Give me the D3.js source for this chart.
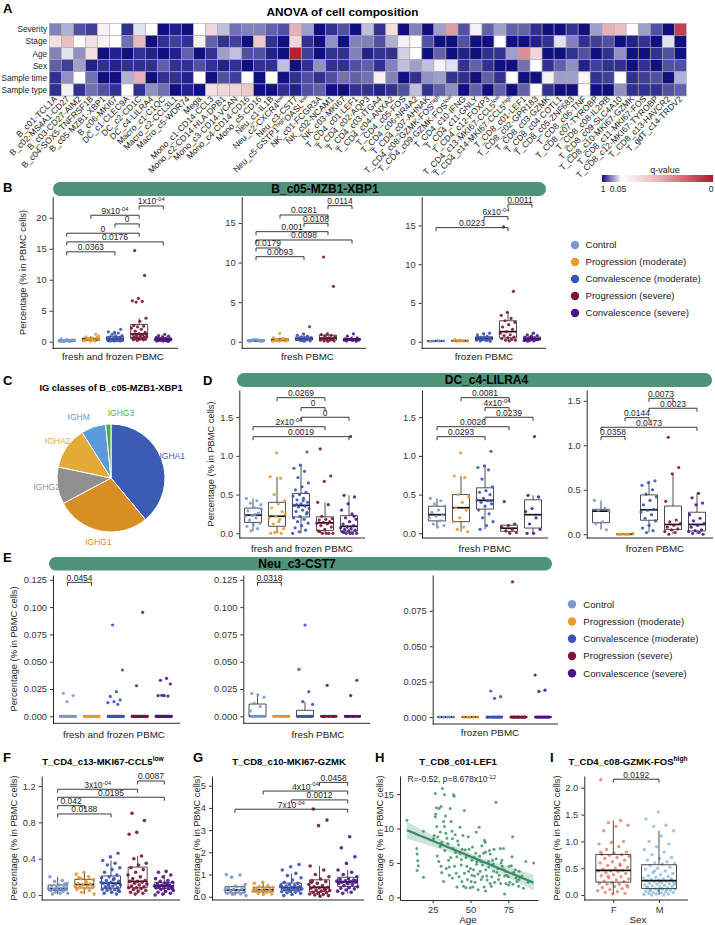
<!DOCTYPE html>
<html>
<head>
<meta charset="utf-8">
<script src="https://cdn.jsdelivr.net/npm/d3@7/dist/d3.min.js"></script>
<style>
  body { margin: 0; background: #fff; }
  svg text { font-family: "Liberation Sans", Arial, Helvetica, sans-serif; }
</style>
</head>
<body>
<script>
// ---------- data ----------
const groups = ["Control", "Progression (moderate)", "Convalescence (moderate)", "Progression (severe)", "Convalescence (severe)"];
const groupColors = ["#7b98d3", "#e99a2c", "#3b52b6", "#7a1534", "#4a1488"];

// A: ANOVA q-values
const factors = ["Severity", "Stage", "Age", "Sex", "Sample time", "Sample type"];
const cellTypes = ["B_c01-TCL1A","B_c02-MS4A1-CD27","B_c03-CD27-AIM2","B_c04-SOX5-TNFRSF1B","B_c05-MZB1-XBP1","B_c06-MKI67",
  "DC_c1-CLEC9A","DC_c2-CD1C","DC_c4-LILRA4","Macro_c1-C1QC","Macro_c2-CCL3L1","Macro_c5-WDR74","Mega",
  "Mono_c1-CD14-CCL3","Mono_c2-CD14-HLA-DPB1","Mono_c3-CD14-VCAN","Mono_c4-CD14-CD16","Mono_c5-CD16",
  "Neu_c1-IL1B","Neu_c2-CXCR4^{low}","Neu_c3-CST7","Neu_c5-GSTP1^{high}OASL^{low}",
  "NK_c01-FCGR3A","NK_c02-NCAM1","NK_c03-MKI67",
  "T_CD4_c01-LEF1","T_CD4_c02-AQP3","T_CD4_c03-ITGA4","T_CD4_c04-ANXA2","T_CD4_c05-FOS","T_CD4_c06-NR4A2","T_CD4_c07-AHNAK",
  "T_CD4_c08-GZMK-FOS^{high}","T_CD4_c09-GZMK-FOS^{low}","T_CD4_c10-IFNG","T_CD4_c11-GNLY","T_CD4_c12-FOXP3",
  "T_CD4_c13-MKI67-CCL5^{low}","T_CD4_c14-MKI67-CCL5^{high}",
  "T_CD8_c01-LEF1","T_CD8_c02-GPR183","T_CD8_c03-GZMK","T_CD8_c04-COTL1","T_CD8_c05-ZNF683","T_CD8_c06-TNF","T_CD8_c07-TYROBP",
  "T_CD8_c08-IL2RB","T_CD8_c09-SLC4A10","T_CD8_c10-MKI67-GZMK","T_CD8_c11-MKI67-FOS","T_CD8_c12-MKI67-TYROBP","T_CD8_c13-HAVCR2","T_gdT_c14-TRDV2"];
const qSeverity = [0.55,0.36,0.74,0.81,0.047,0.05,0.87,0.17,0.05,1,0.93,1,0.05,0.041,0.3,0.62,0.55,0.55,0.68,0.74,0.033,0.43,1,0.87,0.74,1,
  0.3,0.87,0.043,1,0.55,1,0.43,0.029,0.74,0.1,0.68,0.43,0.68,0.68,0.87,1,1,0.87,1,0.43,0.033,0.036,0.05,0.43,0.74,1,0.009];
const qStage = [0.043,0.036,0.05,0.043,0.047,0.05,0.62,0.035,1,0.87,0.81,0.87,0.047,0.68,0.87,0.81,1,0.038,0.87,1,0.041,0.87,1,0.49,1,0.55,
  0.55,0.74,0.36,0.1,0.05,0.74,1,1,0.74,1,1,0.05,1,1,0.93,0.87,0.17,0.55,0.87,0.81,0.74,1,0.93,0.87,1,0.17,1];
const qAge = [0.55,0.17,0.49,0.043,1,0.93,1,0.87,0.93,1,0.93,0.68,1,0.87,0.43,0.3,0.74,0.74,0.93,1,0.002,0.81,1,0.87,0.87,0.55,
  0.93,0.87,0.87,0.23,0.05,1,0.68,1,0.93,1,0.87,0.87,0.43,0.026,0.041,1,1,0.87,0.74,1,0.87,0.49,1,1,0.87,0.74,1];
const qSex = [0.68,0.81,0.43,0.93,0.87,0.93,0.87,0.87,0.87,0.68,0.87,0.87,0.74,0.87,0.93,0.87,1,0.87,0.87,0.3,1,0.87,0.49,0.87,0.87,0.74,
  0.68,0.87,0.55,0.3,0.43,0.3,0.1,0.17,0.87,0.68,0.87,1,1,0.62,0.05,0.87,0.68,0.49,0.93,0.81,0.87,0.87,1,0.87,1,0.74,0.74];
const qSampleTime = [0.87,0.49,0.05,0.62,1,1,0.36,0.033,1,0.87,0.87,0.93,0.05,1,0.74,0.81,0.05,1,0.05,1,0.87,0.74,0.87,0.74,0.62,0.68,
  0.62,0.047,0.55,1,0.87,0.49,0.43,0.87,0.87,1,0.68,0.87,0.05,1,1,0.047,0.43,0.43,0.047,0.87,0.81,0.05,0.87,0.81,0.74,1,0.36];
const qSampleType = [0.87,0.1,0.87,0.62,0.74,0.87,0.05,0.87,0.49,0.62,1,0.93,1,0.043,0.041,0.041,0.038,1,1,0.87,0.93,0.74,0.68,1,1,0.87,
  0.87,0.93,0.87,0.74,0.3,0.87,0.68,0.49,1,0.68,1,0.68,1,0.68,0.05,0.87,1,1,0.05,1,1,0.49,0.87,0.87,0.87,0.74,0.68];

// B: B_c05-MZB1-XBP1 (% in PBMC cells), one array per group
const bFreshFrozen = [
  [0.05,0.1,0.15,0.2,0.08,0.12,0.3,0.25,0.18,0.1,0.05,0.22,0.35,0.45,0.15,0.1,0.28,0.2],
  [0.1,0.2,0.3,0.5,0.4,0.6,0.8,1.2,0.25,0.15,0.35,0.45,0.7,0.3,0.2,0.1,0.5,0.9],
  [2.0,1.5,1.6,1.4,1.2,1.0,0.9,0.8,0.7,0.6,0.5,0.5,0.4,0.4,0.3,0.3,0.3,0.2,0.2,0.2,0.1,0.1,0.1,0.15,0.25,0.35,0.45,0.55,0.65],
  [14.7,10.7,7.0,6.6,6.5,6.4,3.8,3.3,2.6,2.5,2.4,2.2,2.0,1.7,1.5,1.3,1.2,1.1,1.0,0.9,0.9,0.8,0.7,0.6,0.6,0.5,0.5,0.4,0.4,0.3,0.3,0.2],
  [1.2,1.0,0.9,0.8,0.7,0.6,0.5,0.5,0.4,0.4,0.3,0.3,0.3,0.2,0.2,0.2,0.1,0.1,0.15,0.25,0.35,0.45,0.55,0.05]];
const bFresh = [
  [0.05,0.1,0.15,0.2,0.25,0.12,0.08,0.3,0.18,0.1,0.22,0.06],
  [1.06,0.5,0.4,0.3,0.25,0.2,0.15,0.1,0.08,0.05,0.35,0.2,0.12],
  [1.9,1.0,0.8,0.7,0.6,0.5,0.45,0.4,0.35,0.3,0.25,0.2,0.15,0.1,0.05,0.3,0.5,0.2],
  [10.7,7.0,1.0,0.9,0.8,0.7,0.6,0.5,0.4,0.3,0.3,0.2,0.2,0.1,0.1,0.05],
  [1.0,0.7,0.5,0.4,0.35,0.3,0.25,0.2,0.15,0.1,0.05,0.3,0.2]];
const bFrozen = [
  [0.05,0.1,0.08,0.12,0.15,0.06],
  [0.2,0.15,0.1,0.05,0.08,0.12,0.3],
  [1.1,1.05,0.9,0.7,0.6,0.5,0.45,0.4,0.3,0.25,0.2,0.15,0.1,0.05,0.35,0.55],
  [14.8,6.5,3.8,3.4,3.0,2.7,2.5,2.2,1.9,1.6,1.3,1.1,0.9,0.8,0.6,0.5,0.4,0.3,0.2,0.2,0.1],
  [1.1,0.9,0.8,0.7,0.6,0.5,0.45,0.4,0.35,0.3,0.25,0.2,0.15,0.1,0.05,0.3,0.6,0.2]];
// comparisons: [group a, group b, bracket height, p label]
const bSigFreshFrozen = [[3,4,21.9,"1x10^{-04}"],[1,3,20.4,"9x10^{-04}"],[2,3,19.0,"0"],[0,3,17.5,"0"],[0,4,16.1,"0.0176"],[0,2,14.5,"0.0363"]];
const bSigFresh = [[3,4,17.19,"0.0114"],[1,3,16.01,"0.0281"],[2,3,14.96,"0.0108"],[0,3,13.9,"0.001"],[0,4,12.85,"0.0098"],[0,1,11.84,"0.0179"],[0,2,10.74,"0.0093"]];
const bSigFrozen = [[3,4,17.73,"0.0011"],[2,3,16.13,"6x10^{-04}"],[0,3,14.71,"0.0223"]];

// C: IG classes of B_c05-MZB1-XBP1 (%)
const igClasses = ["IGHA1", "IGHG1", "IGHG2", "IGHA2", "IGHM", "IGHG3"];
const igShares = [39.0, 28.2, 11.1, 12.7, 7.4, 1.6];
const igColors = ["#3a5db3", "#d98e24", "#909090", "#e2ab36", "#5c9bd9", "#4daf4a"];
const igAnchor = ["middle", "middle", "middle", "middle", "end", "start"];

// D: DC_c4-LILRA4
const dFreshFrozen = [
  [0.45,0.42,0.39,0.37,0.33,0.29,0.26,0.23,0.22,0.2,0.17,0.13,0.11,0.09,0.06,0.03,0.31,0.24],
  [1.04,0.73,0.71,0.5,0.42,0.38,0.33,0.28,0.22,0.2,0.18,0.12,0.06,0.02,0.0,0.0,0.01,0.25,0.15],
  [1.05,0.88,0.84,0.8,0.72,0.65,0.6,0.56,0.53,0.5,0.48,0.45,0.43,0.4,0.38,0.36,0.35,0.34,0.32,0.3,0.28,0.25,0.22,0.2,0.18,0.15,0.13,0.1,0.07,0.04,0.02,0.0,0.42,0.37,0.27],
  [1.09,0.74,0.67,0.4,0.37,0.22,0.19,0.18,0.17,0.15,0.14,0.13,0.12,0.1,0.08,0.05,0.03,0.0,0.0,0.0,0.0,0.02],
  [1.25,0.49,0.47,0.38,0.3,0.25,0.2,0.18,0.15,0.12,0.1,0.08,0.07,0.06,0.05,0.04,0.03,0.02,0.0,0.0,0.0,0.0,0.01,0.22]];
const dFresh = [
  [0.45,0.42,0.38,0.35,0.3,0.27,0.24,0.22,0.2,0.16,0.12,0.1,0.08],
  [1.04,0.74,0.72,0.5,0.47,0.4,0.33,0.3,0.2,0.15,0.08,0.05,0.02],
  [1.06,0.87,0.85,0.82,0.7,0.6,0.55,0.53,0.5,0.45,0.43,0.42,0.4,0.38,0.35,0.3,0.25,0.2,0.15,0.1,0.05,0.42],
  [0.41,0.12,0.1,0.08,0.05,0.03,0.01,0.0],
  [1.25,0.49,0.47,0.32,0.28,0.2,0.12,0.05,0.0,0.0]];
const dFrozen = [
  [0.38,0.29,0.27,0.26,0.14,0.12,0.05],
  [0.0,0.0,0.0,0.005,0.01,0.0,0.0],
  [0.6,0.58,0.55,0.5,0.45,0.42,0.38,0.33,0.28,0.27,0.25,0.22,0.18,0.15,0.1,0.07,0.04,0.02],
  [1.09,0.75,0.68,0.37,0.16,0.14,0.12,0.1,0.08,0.06,0.05,0.03,0.02,0.0],
  [0.46,0.41,0.35,0.33,0.22,0.18,0.15,0.12,0.1,0.08,0.05,0.04,0.03,0.02,0.01,0.0]];
const dSigFreshFrozen = [[1,3,1.752,"0.0269"],[2,3,1.623,"0"],[2,4,1.499,"0"],[0,3,1.377,"2x10^{-04}"],[0,4,1.248,"0.0019"]];
const dSigFresh = [[1,3,1.752,"0.0081"],[2,3,1.623,"4x10^{-04}"],[2,4,1.499,"0.0239"],[0,3,1.377,"0.0026"],[0,2,1.248,"0.0293"]];
const dSigFrozen = [[2,3,1.528,"0.0073"],[2,4,1.416,"0.0023"],[1,2,1.31,"0.0144"],[0,4,1.202,"0.0473"],[0,1,1.097,"0.0358"]];

// E: Neu_c3-CST7
const eFreshFrozen = [
  [0,0,0,0,0,0,0,0,0,0,0,0,0,0,0,0,0,0,0.0211,0.019,0.0134],
  [0,0,0,0,0,0,0,0,0,0,0,0,0,0,0,0],
  [0,0,0,0,0,0,0,0,0,0,0,0,0,0,0,0,0,0,0,0,0,0,0,0,0,0.0836,0.0424,0.0226,0.0182,0.015,0.0134,0.0125,0.011],
  [0,0,0,0,0,0,0,0,0,0,0,0,0,0,0,0,0,0,0,0,0,0,0,0,0,0.0952,0.028],
  [0,0,0,0,0,0,0,0,0,0,0,0,0,0,0,0,0,0,0,0,0,0,0,0,0,0,0.0348,0.033,0.0296,0.0189,0.019,0.0185,0.0192]];
const eFresh = [
  [0,0,0,0,0,0,0,0,0.005,0.009,0.012,0.0175,0.0195,0.021],
  [0,0,0,0,0,0,0,0,0,0],
  [0,0,0,0,0,0,0,0,0,0,0,0,0,0,0.0836,0.043,0.0226,0.0134,0.011],
  [0,0,0,0,0,0,0,0,0,0,0.0284],
  [0,0,0,0,0,0,0,0,0,0,0.033,0.019]];
const eFrozen = [
  [0,0,0,0,0],
  [0,0,0,0,0],
  [0,0,0,0,0,0,0,0,0,0,0,0,0.0184,0.0144,0.0132],
  [0,0,0,0,0,0,0,0,0,0,0,0,0,0,0,0,0.0955],
  [0,0,0,0,0,0,0,0,0,0,0,0,0.0297,0.019,0.0181]];
const eSigFreshFrozen = [[0,1,0.1227,"0.0454"]];
const eSigFresh = [[0,1,0.1227,"0.0318"]];

// F: T_CD4_c13-MKI67-CCL5low
const fValues = [
  [0.2,0.16,0.15,0.13,0.11,0.1,0.09,0.08,0.07,0.07,0.06,0.06,0.05,0.05,0.04,0.03,0.02,0.02,0.01,0.12,0.08],
  [0.25,0.23,0.2,0.18,0.17,0.15,0.13,0.12,0.11,0.1,0.1,0.09,0.08,0.07,0.06,0.05,0.03,0.01,0.14,0.19],
  [0.46,0.42,0.38,0.35,0.33,0.3,0.28,0.25,0.22,0.2,0.19,0.18,0.16,0.15,0.14,0.13,0.12,0.12,0.11,0.1,0.09,0.08,0.07,0.06,0.06,0.05,0.04,0.03,0.02,0.01,0.1,0.14,0.17,0.08,0.05],
  [0.9,0.82,0.69,0.67,0.43,0.4,0.35,0.33,0.3,0.28,0.25,0.22,0.2,0.18,0.16,0.15,0.15,0.14,0.13,0.12,0.11,0.1,0.09,0.08,0.08,0.07,0.06,0.05,0.04,0.03,0.02,0.01],
  [0.26,0.25,0.22,0.2,0.18,0.16,0.15,0.14,0.13,0.12,0.11,0.11,0.1,0.1,0.09,0.09,0.08,0.08,0.07,0.06,0.05,0.04,0.03,0.02,0.01,0.0,0.12,0.1,0.07]];
const fSig = [[3,4,1.256,"0.0087"],[0,3,1.165,"3x10^{-04}"],[0,4,1.077,"0.0195"],[0,1,0.984,"0.042"],[0,2,0.893,"0.0188"]];

// G: T_CD8_c10-MKI67-GZMK
const gValues = [
  [1.0,0.98,0.88,0.55,0.45,0.38,0.35,0.32,0.3,0.28,0.25,0.2,0.17,0.15,0.12,0.1,0.05],
  [0.65,0.6,0.5,0.45,0.42,0.38,0.33,0.3,0.28,0.25,0.2,0.15,0.12,0.1,0.35,0.22],
  [1.45,1.35,1.2,1.05,0.95,0.85,0.75,0.65,0.6,0.55,0.52,0.5,0.48,0.45,0.42,0.4,0.38,0.37,0.35,0.33,0.3,0.28,0.25,0.22,0.2,0.18,0.15,0.1,0.05,0.4,0.3,0.45],
  [3.95,3.45,3.2,1.38,1.2,1.0,0.9,0.8,0.72,0.68,0.6,0.55,0.5,0.45,0.42,0.4,0.38,0.35,0.3,0.28,0.25,0.2,0.18,0.15,0.12,0.1,0.08,0.05,0.02,0.65,0.3],
  [2.7,2.2,1.8,1.5,1.2,1.1,1.0,0.9,0.8,0.78,0.75,0.72,0.7,0.68,0.65,0.65,0.62,0.6,0.55,0.5,0.45,0.4,0.38,0.35,0.3,0.25,0.2,0.15,0.72,0.58]];
const gSig = [[3,4,5.15,"0.0458"],[1,4,4.76,"4x10^{-04}"],[2,4,4.36,"0.0012"],[0,4,3.94,"7x10^{-04}"]];

// H: T_CD8_c01-LEF1 vs age  [age, % in PBMC cells]
const lefPoints = [[8,11.2],[14.5,7.1],[14.7,6.3],[15.1,5.3],[15.5,4.6],[14.7,3.9],[18.9,2.9],[18.9,9.6],
  [26.7,15.1],[26.7,11.7],[27,12.1],[27.7,10.3],[28.4,8.8],[29.3,12.9],[29.9,7.4],[30.6,4.5],[31.5,15.8],[32.8,14.9],
  [32.2,11],[32.8,10.3],[33.7,9.3],[34.4,8.6],[31,3.6],[32.2,2.3],[35.5,5.4],[36.6,12.9],[37.2,11],[37.7,9.6],[38.3,7.1],
  [38.8,14.9],[39.2,14.7],[39.9,9.1],[41,5.9],[39.4,4.5],[40.5,3.5],[42.1,7.6],[43.2,6.4],[43.9,4.7],[44.3,2.3],[45.4,1.6],
  [46,12.6],[46.5,6.9],[47.6,4.5],[48.7,3.8],[49.8,1.4],[50.9,5.4],[51.3,7.3],[52,4],[52.7,3.1],[53.5,6.4],[54.2,5.2],
  [55.7,10.2],[56.4,3.8],[57.1,2.6],[57.9,4.7],[58.6,6.4],[59.2,8.3],[59.7,8],[60.1,4],[60.8,3.1],[61.9,5.2],[63,2],
  [63.7,1.6],[64.6,5.4],[65.2,3.8],[66.8,13.8],[67.4,3.6],[68.5,2.6],[69.6,7.1],[70.7,5.4],[70.2,5],[71.8,7.1],[72.5,3.1],
  [73.4,2],[75.2,1.8],[77.4,5.9],[77.8,8.8],[78.5,3.6],[79.6,4],[80.7,2.3],[81.8,1.6],[82.2,3.8],[86.6,5.2],[91.7,5],
  [72.5,0.5],[50.4,2.3],[25.5,8.5],[26,9],[28,6],[29,5.2],[30,9.5],[31,8],[33,6.8],[34,4.2],[35,7.8],[36,3.2],[37,5.8],
  [38,2.8],[40,6.5],[41.5,8.2],[42.5,3],[44,5.5],[45,9],[46,3.5],[47,5.8],[48,2.6],[49,7],[50,4.2],[51,3.2],[52.5,5.8],
  [53,2.2],[54,4.8],[55,3.4],[56,6],[57,5.2],[58,3],[59,1.5],[60,6.6],[61,2.5],[62,4.4],[63,6.3],[64,3],[65,4.8],[66,2.2],
  [67,5.6],[68,4.2],[69,3.2],[70,2],[71,4.5],[72,4],[73,3.8],[74,3.2],[75,3],[76,2.2],[77,4.6],[78,1.9],[80,2.8],[82,2.6],
  [84,3.1],[85,1.3],[88,2.2],[36,4.4],[43,10.2],[33.5,11.8],[30.5,13.2],[38,8.5],[27.5,13],[44.5,7],[48.5,8.8],[53.8,9.5],
  [57.5,7.5],[62.5,6.8],[65.5,7],[75.5,4.5],[41,1.5],[47,1.4],[51.5,1.5],[55,1.1],[60,0.9]];

// I: T_CD4_c08-GZMK-FOShigh by sex
const sexes = ["F", "M"];
const sexColors = ["#d6604d", "#6baed6"];
const iValues = [
  [2.15,1.39,1.35,1.3,1.28,1.2,1.0,0.98,0.95,0.9,0.85,0.8,0.78,0.76,0.75,0.74,0.72,0.7,0.68,0.65,0.62,0.6,0.58,0.55,0.52,0.5,
   0.48,0.46,0.45,0.45,0.44,0.42,0.4,0.38,0.36,0.34,0.32,0.3,0.28,0.26,0.25,0.23,0.22,0.2,0.2,0.18,0.16,0.14,0.12,0.1,0.08,0.06,
   0.05,0.03,0.02,0.8,0.55,0.35,0.15],
  [1.55,1.42,1.3,1.28,1.2,1.1,1.0,0.95,0.9,0.85,0.8,0.75,0.7,0.68,0.65,0.62,0.6,0.59,0.58,0.55,0.52,0.5,0.48,0.45,0.42,0.4,
   0.38,0.36,0.35,0.33,0.32,0.3,0.29,0.28,0.28,0.27,0.26,0.25,0.24,0.23,0.22,0.21,0.2,0.19,0.18,0.17,0.16,0.15,0.14,0.13,0.12,
   0.11,0.11,0.1,0.09,0.08,0.07,0.06,0.05,0.05,0.04,0.03,0.02,0.02,0.01,0.0,0.0,0.3,0.25,0.15,0.1,0.45,0.2,0.12,0.08]];
const iSig = [[0,1,2.16,"0.0192"]];

// ---------- drawing ----------
const svg = d3.select("body").append("svg").attr("width", 715).attr("height", 925);

// text with ^{...} superscripts
function rich(sel, str, fs) {
  const parts = str.split(/\^\{([^}]*)\}/);
  let up = false;
  parts.forEach((p, i) => {
    if (p === "") return;
    const t = sel.append("tspan").text(p);
    if (i % 2 === 1) {
      t.attr("font-size", fs * 0.7);
      if (!up) { t.attr("dy", -fs * 0.38); up = true; }
    } else if (up) {
      t.attr("dy", fs * 0.38); up = false;
    }
  });
  return sel;
}

function txt(x, y, str, o = {}) {
  const fs = o.size || 9;
  const t = svg.append("text").attr("x", x).attr("y", y)
    .attr("font-size", fs)
    .attr("text-anchor", o.anchor || "start")
    .attr("font-weight", o.bold ? "bold" : null)
    .attr("fill", o.fill || "#000");
  return rich(t, str, fs);
}

function yLabel(x, yc, s) {
  svg.append("text").attr("transform", `translate(${x},${yc}) rotate(-90)`)
    .attr("text-anchor", "middle").attr("dominant-baseline", "central")
    .attr("font-size", 9.3).attr("fill", "#222").text(s);
}

function styleAxis(g) {
  g.attr("font-size", 9.3);
  g.select(".domain").attr("stroke", "#111").attr("stroke-width", 0.9);
  g.selectAll(".tick line").attr("stroke", "#333");
  g.selectAll(".tick text").attr("fill", "#333");
}

// panel letters
[["A", 3, 13], ["B", 3, 192], ["C", 3, 385], ["D", 203, 385], ["E", 3, 562], ["F", 3, 762], ["G", 193, 762], ["H", 375, 762], ["I", 550, 762]]
  .forEach(([l, x, y]) => txt(x, y, l, {size: 13, bold: true}));

// ---- A: heatmap ----
txt(342.5, 16, "ANOVA of cell composition", {size: 11.8, bold: true, anchor: "middle"});
const hmX = d3.scaleBand().domain(cellTypes).range([49.3, 686.3]);
const hmY = d3.scaleBand().domain(factors).range([23.3, 96]);
const qColor = d3.scaleLinear().domain([0, 0.05, 1]).range(["#b2182b", "#ffffff", "#10107e"]);
const qRows = [qSeverity, qStage, qAge, qSex, qSampleTime, qSampleType];
const cells = [];
factors.forEach((f, r) => qRows[r].forEach((q, c) => cells.push({f, ct: cellTypes[c], q})));
svg.append("g").selectAll("rect").data(cells).join("rect")
  .attr("x", d => hmX(d.ct)).attr("y", d => hmY(d.f))
  .attr("width", hmX.bandwidth()).attr("height", hmY.bandwidth())
  .attr("fill", d => qColor(d.q)).attr("stroke", "#a8a8a8").attr("stroke-width", 0.6);
factors.forEach(f => txt(47, hmY(f) + hmY.bandwidth() / 2 + 3, f, {size: 8.2, anchor: "end", fill: "#222"}));
cellTypes.forEach(ct => {
  const t = svg.append("text")
    .attr("transform", `translate(${hmX(ct) + hmX.bandwidth() / 2 + 2.5},99.5) rotate(-45)`)
    .attr("text-anchor", "end").attr("font-size", 8.6).attr("fill", "#222");
  rich(t, ct, 8.6);
});
// colour key
const grad = svg.append("defs").append("linearGradient").attr("id", "qgrad");
[[0, 1], [0.176, 0.05], [0.5, 0.034], [1, 0]].forEach(([o, q]) =>
  grad.append("stop").attr("offset", o).attr("stop-color", qColor(q)));
svg.append("rect").attr("x", 602).attr("y", 175).attr("width", 111).attr("height", 7).attr("fill", "url(#qgrad)");
txt(665, 173, "q-value", {size: 9, anchor: "middle", fill: "#222"});
txt(603, 192, "1", {size: 8.5, anchor: "middle", fill: "#222"});
txt(618, 192, "0.05", {size: 8.5, anchor: "middle", fill: "#222"});
txt(711, 192, "0", {size: 8.5, anchor: "middle", fill: "#222"});

// ---- strips and legends ----
function strip(x0, x1, y0, y1, title, tx) {
  svg.append("rect").attr("x", x0).attr("y", y0).attr("width", x1 - x0).attr("height", y1 - y0)
    .attr("rx", (y1 - y0) / 2).attr("fill", "#4e9277");
  txt(tx, (y0 + y1) / 2 + 4.3, title, {size: 12, bold: true, anchor: "middle"});
}
strip(53, 546, 182, 196, "B_c05-MZB1-XBP1", 325);
strip(237, 712, 373, 387, "DC_c4-LILRA4", 486.5);
strip(49, 552, 557, 570.5, "Neu_c3-CST7", 297);

function legend(cx, y0, step, tx) {
  const lg = svg.append("g");
  lg.selectAll("circle").data(groups).join("circle")
    .attr("cx", cx).attr("cy", (d, i) => y0 + i * step).attr("r", 4.2)
    .attr("fill", (d, i) => groupColors[i]);
  lg.selectAll("text").data(groups).join("text")
    .attr("x", tx).attr("y", (d, i) => y0 + i * step + 3.4)
    .attr("font-size", 9.6).attr("fill", "#222").text(d => d);
}
legend(575, 245, 17, 585.5);
legend(572, 604.3, 17.25, 583.3);

// ---- box + jitter panels ----
const jit = (i, k) => ((i * 0.6180339887 + k * 0.37 + 0.11) % 1) - 0.5;

function boxStats(vals) {
  const s = vals.slice().sort(d3.ascending);
  const q1 = d3.quantile(s, 0.25), md = d3.quantile(s, 0.5), q3 = d3.quantile(s, 0.75);
  const iqr = q3 - q1;
  return {q1, md, q3,
    lo: d3.min(s.filter(v => v >= q1 - 1.5 * iqr)),
    hi: d3.max(s.filter(v => v <= q3 + 1.5 * iqr))};
}

function drawBox(g, st, cx, y, w, fill) {
  g.append("line").attr("x1", cx).attr("x2", cx).attr("y1", y(st.hi)).attr("y2", y(st.q3))
    .attr("stroke", "#222").attr("stroke-width", 0.8);
  g.append("line").attr("x1", cx).attr("x2", cx).attr("y1", y(st.q1)).attr("y2", y(st.lo))
    .attr("stroke", "#222").attr("stroke-width", 0.8);
  g.append("path").attr("d", `M${cx - w / 2},${y(st.q1)}H${cx + w / 2}V${y(st.q3)}H${cx - w / 2}Z`)
    .attr("fill", fill).attr("stroke", "#222").attr("stroke-width", 0.8);
  g.append("line").attr("x1", cx - w / 2).attr("x2", cx + w / 2).attr("y1", y(st.md)).attr("y2", y(st.md))
    .attr("stroke", "#111").attr("stroke-width", 1.7);
}

function drawSig(g, list, x, y) {
  list.forEach(([a, b, h, lab]) => {
    const yy = y(h), xa = x(a), xb = x(b);
    g.append("path").attr("d", `M${xa},${yy + 3.5}V${yy}H${xb}V${yy + 3.5}`)
      .attr("fill", "none").attr("stroke", "#222").attr("stroke-width", 0.9);
    const t = g.append("text").attr("x", (xa + xb) / 2).attr("y", yy - 1.5)
      .attr("text-anchor", "middle").attr("font-size", 8.5).attr("fill", "#222");
    rich(t, lab, 8.5);
  });
}

function boxPanel(p) {
  const g = svg.append("g");
  const x = d3.scalePoint().domain(d3.range(p.vals.length)).range(p.xr);
  const y = d3.scaleLinear().domain(p.yd).range([p.yb, p.yt]);
  g.append("g").attr("transform", `translate(${p.x0},0)`)
    .call(d3.axisLeft(y).tickValues(p.ticks).tickFormat(d3.format(p.fmt)).tickSize(3).tickSizeOuter(0))
    .call(styleAxis);
  g.append("line").attr("x1", p.x0).attr("x2", p.x1).attr("y1", p.yb).attr("y2", p.yb)
    .attr("stroke", "#111").attr("stroke-width", 0.9);
  p.vals.forEach((vals, k) => {
    drawBox(g, boxStats(vals), x(k), y, p.bw, "#fff");
    g.append("g").selectAll("circle").data(vals).join("circle")
      .attr("cx", (d, i) => x(k) + jit(i, k) * p.jw).attr("cy", d => y(d))
      .attr("r", p.r || 1.6).attr("fill", groupColors[k]).attr("fill-opacity", 0.9);
  });
  if (p.sig) drawSig(g, p.sig, x, y);
  if (p.xl) txt(p.xl[1], p.xl[2], p.xl[0], {size: 9.8, anchor: "middle", fill: "#222"});
}

// B
boxPanel({vals: bFreshFrozen, x0: 52.7, x1: 178, xr: [66.7, 163.3], yb: 348.3, yt: 196.7, yd: [-1.06, 23.39],
  ticks: [0, 5, 10, 15, 20], fmt: "d", sig: bSigFreshFrozen, xl: ["fresh and frozen PBMC", 113, 360.2], bw: 17, jw: 16});
boxPanel({vals: bFresh, x0: 241.7, x1: 366, xr: [256, 352], yb: 348.3, yt: 196.7, yd: [-0.834, 18.32],
  ticks: [0, 5, 10, 15], fmt: "d", sig: bSigFresh, xl: ["fresh PBMC", 307.5, 360.2], bw: 17, jw: 16});
boxPanel({vals: bFrozen, x0: 421.7, x1: 546, xr: [436, 532], yb: 348.3, yt: 196.7, yd: [-0.85, 18.7],
  ticks: [0, 5, 10, 15], fmt: "d", sig: bSigFrozen, xl: ["frozen PBMC", 484, 360.2], bw: 17, jw: 16});
yLabel(23.3, 272.5, "Percentage (% in PBMC cells)");

// D
boxPanel({vals: dFreshFrozen, x0: 239.3, x1: 365, xr: [253, 349], yb: 538, yt: 390, yd: [-0.061, 1.851],
  ticks: [0, 0.5, 1, 1.5], fmt: ".1f", sig: dSigFreshFrozen, xl: ["fresh and frozen PBMC", 302, 551.8], bw: 17, jw: 17});
boxPanel({vals: dFresh, x0: 422, x1: 548, xr: [437, 533], yb: 538, yt: 390, yd: [-0.061, 1.851],
  ticks: [0, 0.5, 1, 1.5], fmt: ".1f", sig: dSigFresh, xl: ["fresh PBMC", 485, 551.8], bw: 17, jw: 17});
boxPanel({vals: dFrozen, x0: 586.7, x1: 713, xr: [601, 697], yb: 538, yt: 390, yd: [-0.042, 1.621],
  ticks: [0, 0.5, 1, 1.5], fmt: ".1f", sig: dSigFrozen, xl: ["frozen PBMC", 655, 551.8], bw: 17, jw: 17});
yLabel(211, 464, "Percentage (% in PBMC cells)");

// E
boxPanel({vals: eFreshFrozen, x0: 53, x1: 180, xr: [67.5, 164], yb: 723.3, yt: 575, yd: [-0.0064, 0.1294],
  ticks: [0, 0.025, 0.05, 0.075, 0.1, 0.125], fmt: ".3f", sig: eSigFreshFrozen, xl: ["fresh and frozen PBMC", 114, 737.5], bw: 17, jw: 16});
boxPanel({vals: eFresh, x0: 243.3, x1: 370, xr: [257.5, 352.5], yb: 723.3, yt: 575, yd: [-0.0064, 0.1294],
  ticks: [0, 0.025, 0.05, 0.075, 0.1, 0.125], fmt: ".3f", sig: eSigFresh, xl: ["fresh PBMC", 318, 737.5], bw: 17, jw: 16});
boxPanel({vals: eFrozen, x0: 432.7, x1: 558, xr: [446, 543], yb: 724, yt: 575, yd: [-0.0049, 0.1003],
  ticks: [0, 0.025, 0.05, 0.075], fmt: ".3f", xl: ["frozen PBMC", 490, 735.5], bw: 17, jw: 16});
yLabel(14, 649, "Percentage (% in PBMC cells)");

// F, G
txt(103, 765, "T_CD4_c13-MKI67-CCL5^{low}", {size: 9.5, bold: true, anchor: "middle"});
boxPanel({vals: fValues, x0: 41.7, x1: 180, xr: [57.7, 164.3], yb: 900, yt: 776, yd: [-0.055, 1.311],
  ticks: [0, 0.4, 0.8, 1.2], fmt: ".1f", sig: fSig, bw: 19, jw: 20, r: 1.8});
yLabel(13.5, 838, "Percentage (% in PBMC cells)");

txt(289, 765, "T_CD8_c10-MKI67-GZMK", {size: 9.5, bold: true, anchor: "middle"});
boxPanel({vals: gValues, x0: 212, x1: 364, xr: [235, 347.7], yb: 900, yt: 776, yd: [-0.149, 5.437],
  ticks: [0, 1, 2, 3, 4, 5], fmt: "d", sig: gSig, bw: 20, jw: 22, r: 1.8});
yLabel(197, 838, "Percentage (% in PBMC cells)");

// ---- C: pie ----
txt(111, 390.5, "IG classes of B_c05-MZB1-XBP1", {size: 9.3, bold: true, anchor: "middle"});
const pieG = svg.append("g").attr("transform", "translate(111,478)");
const arcs = d3.pie().sort(null).value(d => d)(igShares);
const arc = d3.arc().innerRadius(0).outerRadius(54);
const labArc = d3.arc().innerRadius(65).outerRadius(65);
pieG.selectAll("path").data(arcs).join("path")
  .attr("d", arc).attr("fill", (d, i) => igColors[i]).attr("stroke", "#fff").attr("stroke-width", 1);
pieG.selectAll("text").data(arcs).join("text")
  .attr("transform", d => `translate(${labArc.centroid(d)})`)
  .attr("text-anchor", (d, i) => igAnchor[i]).attr("dominant-baseline", "central")
  .attr("font-size", 8.5).attr("fill", (d, i) => igColors[i])
  .text((d, i) => igClasses[i]);

// ---- H: scatter with fit ----
txt(458, 765, "T_CD8_c01-LEF1", {size: 9.5, bold: true, anchor: "middle"});
const hx = d3.scaleLinear().domain([3.4, 94.6]).range([400, 538]);
const hy = d3.scaleLinear().domain([-0.39, 17.63]).range([900, 776]);
const hg = svg.append("g");
hg.append("g").attr("transform", "translate(400,0)")
  .call(d3.axisLeft(hy).tickValues([0, 5, 10, 15]).tickSize(3).tickSizeOuter(0)).call(styleAxis);
hg.append("g").attr("transform", "translate(0,900)")
  .call(d3.axisBottom(hx).tickValues([25, 50, 75]).tickSize(3).tickSizeOuter(0)).call(styleAxis);
const ages = lefPoints.map(d => d[0]), pcts = lefPoints.map(d => d[1]);
const n = ages.length, mx = d3.mean(ages), my = d3.mean(pcts);
const sxx = d3.sum(ages, a => (a - mx) ** 2);
const slope = d3.sum(lefPoints, d => (d[0] - mx) * (d[1] - my)) / sxx;
const icpt = my - slope * mx;
const sRes = Math.sqrt(d3.sum(lefPoints, d => (d[1] - icpt - slope * d[0]) ** 2) / (n - 2));
const [amin, amax] = d3.extent(ages);
const fitX = d3.range(amin, amax + 0.001, (amax - amin) / 40);
const fit = fitX.map(a => {
  const se = 1.97 * sRes * Math.sqrt(1 / n + (a - mx) ** 2 / sxx);
  return {a, f: icpt + slope * a, lo: icpt + slope * a - se, hi: icpt + slope * a + se};
});
hg.append("g").selectAll("circle").data(lefPoints).join("circle")
  .attr("cx", d => hx(d[0])).attr("cy", d => hy(d[1])).attr("r", 1.5)
  .attr("fill", "#3f8f6b").attr("fill-opacity", 0.85);
hg.append("path").datum(fit)
  .attr("d", d3.area().x(d => hx(d.a)).y0(d => hy(d.lo)).y1(d => hy(d.hi)))
  .attr("fill", "#3a8a66").attr("fill-opacity", 0.25);
hg.append("path").datum(fit)
  .attr("d", d3.line().x(d => hx(d.a)).y(d => hy(d.f)))
  .attr("fill", "none").attr("stroke", "#3a8a66").attr("stroke-width", 2.2);
txt(407.5, 782, "R=-0.52, p=8.678x10^{-12}", {size: 8.5, fill: "#222"});
txt(468, 923, "Age", {size: 9.8, anchor: "middle", fill: "#222"});
yLabel(380, 838, "Percentage (% in PBMC cells)");

// ---- I: sex comparison ----
txt(628, 765, "T_CD4_c08-GZMK-FOS^{high}", {size: 9.5, bold: true, anchor: "middle"});
const ix = d3.scalePoint().domain(sexes).range([613.3, 659]);
const iy = d3.scaleLinear().domain([-0.093, 2.22]).range([900, 776]);
const ig = svg.append("g");
ig.append("g").attr("transform", "translate(584.3,0)")
  .call(d3.axisLeft(iy).tickValues([0, 0.5, 1, 1.5, 2]).tickFormat(d3.format(".1f")).tickSize(3).tickSizeOuter(0))
  .call(styleAxis);
ig.append("g").attr("transform", "translate(0,900)")
  .call(d3.axisBottom(ix).tickSize(3).tickSizeOuter(0)).call(styleAxis)
  .call(a => a.select(".domain").remove());
ig.append("line").attr("x1", 584.3).attr("x2", 688).attr("y1", 900).attr("y2", 900)
  .attr("stroke", "#111").attr("stroke-width", 0.9);
sexes.forEach((s, k) => {
  ig.append("g").selectAll("circle").data(iValues[k]).join("circle")
    .attr("cx", (d, i) => ix(s) + jit(i, k) * 32).attr("cy", d => iy(d)).attr("r", 1.7)
    .attr("fill", sexColors[k]).attr("fill-opacity", 0.65);
});
sexes.forEach((s, k) => drawBox(ig, boxStats(iValues[k]), ix(s), iy, 35, "none"));
drawSig(ig, iSig, i => ix(sexes[i]), iy);
txt(638, 923, "Sex", {size: 9.8, anchor: "middle", fill: "#222"});
yLabel(557, 838, "Percentage (% in PBMC cells)");
</script>
</body>
</html>
